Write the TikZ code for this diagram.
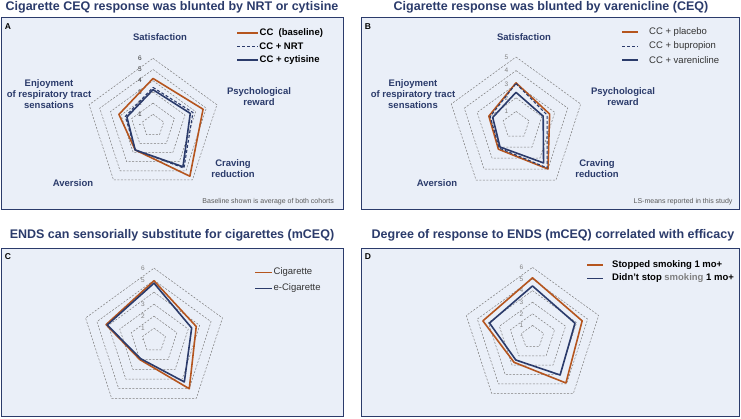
\documentclass[tikz,border=0pt]{standalone}
\usepackage{fontspec}
\setmainfont{Liberation Sans}
\usetikzlibrary{calc}

\definecolor{navy}{RGB}{43,59,107}
\definecolor{rust}{RGB}{181,85,30}
\definecolor{panelbg}{RGB}{234,239,248}
\definecolor{ringgray}{RGB}{125,125,125}

\tikzset{
    panel/.style={draw=navy, fill=panelbg, line width=0.8pt},
    ptitle/.style={text=navy, font=\fontsize{12.5}{14}\selectfont\bfseries},
    plabel/.style={font=\fontsize{8.5}{10}\selectfont\bfseries, text=black},
    axislbl/.style={text=navy, font=\fontsize{9.5}{11}\selectfont\bfseries, align=center},
    ring/.style={draw=ringgray, dash pattern=on 2pt off 1.5pt, line width=0.5pt},
    ticklbl/.style={font=\fontsize{6.5}{7}\selectfont, text=gray},
    note/.style={font=\fontsize{7}{8}\selectfont, text=black!65, anchor=east},
    legtxt/.style={anchor=west, font=\fontsize{9.5}{11}\selectfont, inner sep=1pt},
    serA/.style={draw=rust, line width=1.6pt, line join=round},
    serB/.style={draw=navy, line width=1.1pt, dashed, dash pattern=on 3pt off 2pt},
    serC/.style={draw=navy, line width=1.6pt, line join=round},
}

% pentagon rings: center, unit, levels
\newcommand{\radargrid}[3]{%
    \foreach \k in {1,...,#3}
        \draw[ring,shift={(#1)}] (90:\k*#2) -- (18:\k*#2) -- (-54:\k*#2) -- (-126:\k*#2) -- (162:\k*#2) -- cycle;
}
% one series: style, center, unit, then the five values
\newcommand{\radarline}[8]{%
    \draw[#1,shift={(#2)}] (90:#4*#3) -- (18:#5*#3) -- (-54:#6*#3) -- (-126:#7*#3) -- (162:#8*#3) -- cycle;
}

\begin{document}
\begin{tikzpicture}[x=1pt,y=1pt]
    \useasboundingbox (0,0) rectangle (741,418);
    \fill[white] (0,0) rectangle (741,418);

    % panels
    \draw[panel] (1.5,209) rectangle (343,400.5);
    \draw[panel] (361,209) rectangle (739.5,400.5);
    \draw[panel] (1.5,1.5) rectangle (343,170);
    \draw[panel] (361,1.5) rectangle (739.5,170);

    \node[ptitle] (titleA) at (172,411) {Cigarette CEQ response was blunted by NRT or cytisine};
    \node[ptitle] (titleB) at (551,411) {Cigarette response was blunted by varenicline (CEQ)};
    \node[ptitle] (titleC) at (172,183) {ENDS can sensorially substitute for cigarettes (mCEQ)};
    \node[ptitle] (titleD) at (553,183) {Degree of response to ENDS (mCEQ) correlated with efficacy};

    \node[plabel] (letA) at (8,391) {A};
    \node[plabel] (letB) at (368,391) {B};
    \node[plabel] (letC) at (8,161) {C};
    \node[plabel] (letD) at (368,161) {D};

    \coordinate (cA) at (153,292.5);
    \coordinate (cB) at (516,293);
    \coordinate (cC) at (154,77.8);
    \coordinate (cD) at (532.5,81);

    %% panel A
    \radargrid{cA}{11.2}{6}
    \foreach \k in {1,...,6}
        \node[ticklbl,text=black!80] (tA\k) at ($(cA)+(-13,\k*11.2)$) {\k};
    \node[ticklbl,text=black!80] (tA0) at ($(cA)+(-13,0)$) {-};
    \radarline{serA}{cA}{11.2}{4.2}{4.7}{5.6}{2.7}{3.2}
    \radarline{serB}{cA}{11.2}{3.4}{3.75}{4.7}{2.7}{2.6}
    \radarline{serC}{cA}{11.2}{3.2}{3.5}{4.55}{2.7}{2.45}

    \node[axislbl] (satA) at (160,381) {Satisfaction};
    \node[axislbl] (psyA) at (259,321) {Psychological\\reward};
    \node[axislbl] (cravA) at (233,249.5) {Craving\\reduction};
    \node[axislbl] (avA) at (73,235) {Aversion};
    \node[axislbl] (enjA) at (49,324) {Enjoyment\\of respiratory tract\\sensations};

    \coordinate (lA1) at (237,385);
    \coordinate (lA2) at (237,371.5);
    \coordinate (lA3) at (237,358);
    \draw[serA,line width=1.3pt] (lA1) -- ++(21,0) node[legtxt,font=\fontsize{9.5}{11}\selectfont\bfseries] (legA1) {CC\ \ (baseline)};
    \draw[serB,line width=0.9pt] (lA2) -- ++(21,0) node[legtxt,font=\fontsize{9.5}{11}\selectfont\bfseries] (legA2) {CC + NRT};
    \draw[serC,line width=1.3pt] (lA3) -- ++(21,0) node[legtxt,font=\fontsize{9.5}{11}\selectfont\bfseries] (legA3) {CC + cytisine};

    \node[note] (noteA) at (337.5,216) {Baseline shown is average of both cohorts};

    %% panel B
    \radargrid{cB}{13.6}{5}
    \foreach \k in {1,...,5}
        \node[ticklbl] (tB\k) at ($(cB)+(-9.5,\k*13.6)$) {\k};
    \radarline{serA}{cB}{13.6}{3.1}{2.6}{4.0}{2.2}{2.1}
    \radarline{serB}{cB}{13.6}{3.05}{2.4}{3.9}{2.1}{2.0}
    \radarline{serC}{cB}{13.6}{2.4}{2.1}{3.45}{2.0}{1.8}

    \node[axislbl] (satB) at (524,381) {Satisfaction};
    \node[axislbl] (psyB) at (623,321) {Psychological\\reward};
    \node[axislbl] (cravB) at (597,249.5) {Craving\\reduction};
    \node[axislbl] (avB) at (437,235) {Aversion};
    \node[axislbl] (enjB) at (413,324) {Enjoyment\\of respiratory tract\\sensations};

    \coordinate (lB1) at (622,386);
    \coordinate (lB2) at (622,371.5);
    \coordinate (lB3) at (622,358);
    \draw[serA,line width=1.3pt] (lB1) -- ++(16,0);
    \draw[serB,line width=0.9pt] (lB2) -- ++(16,0);
    \draw[serC,line width=1.3pt] (lB3) -- ++(16,0);
    \node[legtxt,text=black!80] (legB1) at (648,386) {CC + placebo};
    \node[legtxt,text=black!80] (legB2) at (648,371.5) {CC + bupropion};
    \node[legtxt,text=black!80] (legB3) at (648,358) {CC + varenicline};

    \node[note] (noteB) at (736,216) {LS-means reported in this study};

    %% panel C
    \radargrid{cC}{12}{6}
    \foreach \k in {1,...,6}
        \node[ticklbl] (tC\k) at ($(cC)+(-11,\k*12)$) {\k};
    \node[ticklbl] (tC0) at ($(cC)+(-11,0)$) {-};
    \radarline{serA}{cC}{12}{4.95}{3.7}{5.0}{2.0}{4.2}
    \radarline{serC}{cC}{12}{4.75}{3.3}{4.3}{1.9}{4.1}

    \coordinate (lC1) at (255,145.7);
    \coordinate (lC2) at (255,129.7);
    \draw[serA,line width=1.3pt] (lC1) -- ++(17,0) node[legtxt,text=black!80] (legC1) {Cigarette};
    \draw[serC,line width=1.3pt] (lC2) -- ++(17,0) node[legtxt,text=black!80] (legC2) {e-Cigarette};

    %% panel D
    \radargrid{cD}{11.6}{6}
    \foreach \k in {1,...,6}
        \node[ticklbl] (tD\k) at ($(cD)+(-11,\k*11.6)$) {\k};
    \node[ticklbl] (tD0) at ($(cD)+(-11,0)$) {-};
    \radarline{serA}{cD}{11.6}{5.1}{4.5}{4.9}{2.7}{4.5}
    \radarline{serC}{cD}{11.6}{4.4}{3.85}{4.05}{2.45}{3.9}

    \coordinate (lD1) at (587,153);
    \coordinate (lD2) at (587,139.7);
    \draw[serA,line width=1.3pt] (lD1) -- ++(16,0);
    \draw[serC,line width=1.3pt] (lD2) -- ++(16,0);
    \node[legtxt,font=\fontsize{9.5}{11}\selectfont\bfseries] (legD1) at (611,153) {Stopped smoking 1 mo+};
    \node[legtxt,font=\fontsize{9.5}{11}\selectfont\bfseries] (legD2) at (611,139.7) {Didn't stop \textcolor{gray}{smoking} 1 mo+};
\end{tikzpicture}
\end{document}
